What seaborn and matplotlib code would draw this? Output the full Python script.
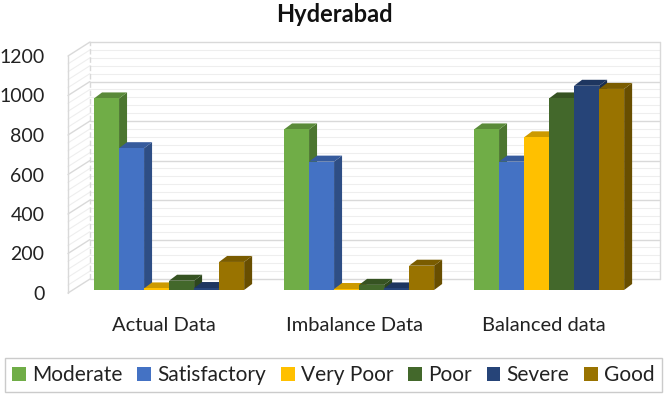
import numpy as np
import pandas as pd
import matplotlib
matplotlib.use("Agg")
import matplotlib.pyplot as plt
import seaborn as sns
from matplotlib.patches import Polygon, Patch
from matplotlib.transforms import ScaledTranslation

# ---- data ----
categories = ["Actual Data", "Imbalance Data", "Balanced data"]
classes = ["Moderate", "Satisfactory", "Very Poor", "Poor", "Severe", "Good"]
moderate = [970, 813, 813]
satisfactory = [718, 650, 650]
very_poor = [8, 5, 773]
poor = [47, 26, 970]
severe = [10, 8, 1034]
good = [142, 123, 1018]
y_ticks = [0, 200, 400, 600, 800, 1000, 1200]

series = [moderate, satisfactory, very_poor, poor, severe, good]
colors = ["#70AD47", "#4472C4", "#FFC000", "#43682B", "#264478", "#997300"]

rows = []
for cls, vals in zip(classes, series):
    for cat, v in zip(categories, vals):
        rows.append({"Dataset": cat, "Class": cls, "Count": v})
df = pd.DataFrame(rows)

sns.set_style("white")
plt.rcParams["font.family"] = ["Lato", "DejaVu Sans"]

W, H = 668, 397
fig = plt.figure(figsize=(W / 100, H / 100), dpi=100)
ax_l, ax_r, ax_b, ax_t = 68, 638, 293, 56
ax = fig.add_axes([ax_l / W, (H - ax_b) / H, (ax_r - ax_l) / W, (ax_b - ax_t) / H])

sns.barplot(data=df, x="Dataset", y="Count", hue="Class", hue_order=classes,
            order=categories, palette=colors, width=0.79, saturation=1,
            ax=ax, legend=False, errorbar=None)

x0, x1 = -0.532, 2.468
ax.set_xlim(x0, x1)
ax.set_ylim(0, 1200)

ppx = (ax_r - ax_l) / (x1 - x0)
ppy = (ax_b - ax_t) / 1200.0
wdx, wdy = 22 / ppx, 14 / ppy      # back wall offset
bdx, bdy = 8 / ppx, 6 / ppy        # bar depth
shift = ax.transData + ScaledTranslation(0, 3 / 100, fig.dpi_scale_trans)

# back wall grid
for v in np.arange(0, 1201, 40):
    major = (v % 200 == 0)
    ax.plot([x0 + wdx, x1 + wdx], [v + wdy, v + wdy],
            color="#D9D9D9" if major else "#EEEEEE", lw=1.0 if major else 0.8,
            zorder=0, clip_on=False)
    ax.plot([x0, x0 + wdx], [v, v + wdy],
            color="#D9D9D9" if major else "#EEEEEE", lw=1.0 if major else 0.8,
            zorder=0, clip_on=False)
ax.plot([x0, x0], [0, 1200], color="#D9D9D9", lw=1, zorder=0, clip_on=False)
ax.plot([x0 + wdx, x0 + wdx], [wdy, 1200 + wdy], color="#D9D9D9", lw=1,
        ls=(0, (4, 2)), zorder=0, clip_on=False)
ax.plot([x1 + wdx, x1 + wdx], [wdy, 1200 + wdy], color="#D9D9D9", lw=1,
        zorder=0, clip_on=False)


def shade(c, f):
    r, g, b = matplotlib.colors.to_rgb(c)
    return (r * f, g * f, b * f)


# 3D faces
bars = sorted(ax.patches, key=lambda p: p.get_x())
for i, p in enumerate(bars):
    bx, bw, bh = p.get_x(), p.get_width(), p.get_height()
    fc = p.get_facecolor()
    z = 2 + i * 0.01
    p.set_transform(shift)
    p.set_zorder(z + 0.005)
    p.set_linewidth(0)
    side = Polygon([(bx + bw, 0), (bx + bw + bdx, bdy), (bx + bw + bdx, bh + bdy), (bx + bw, bh)],
                   closed=True, facecolor=shade(fc, 0.68), edgecolor="none", zorder=z,
                   transform=shift, clip_on=False)
    top = Polygon([(bx, bh), (bx + bdx, bh + bdy), (bx + bw + bdx, bh + bdy), (bx + bw, bh)],
                  closed=True, facecolor=shade(fc, 0.8), edgecolor="none", zorder=z,
                  transform=shift, clip_on=False)
    ax.add_patch(side)
    ax.add_patch(top)

for s in ax.spines.values():
    s.set_visible(False)
ax.set_xlabel("")
ax.set_ylabel("")
ax.set_yticks(y_ticks)
ax.set_yticklabels([str(t) for t in y_ticks], fontsize=14, color="#222222")
ax.tick_params(axis="y", length=0, pad=17)
ax.tick_params(axis="x", length=0, pad=17, labelsize=14.5, labelcolor="#222222")
for lbl in ax.get_xticklabels():
    lbl.set_transform(lbl.get_transform() + ScaledTranslation(-5 / 100, 0, fig.dpi_scale_trans))

fig.text(0.5, 1 - 14 / H, "Hyderabad", ha="center", va="center",
         fontsize=17, fontweight="bold", color="#111111")

handles = [Patch(facecolor=c, edgecolor="none") for c in colors]
leg = fig.legend(handles, classes, loc="center", ncol=6, mode="expand",
                 bbox_to_anchor=(5 / W, 1 - 395 / H, 657 / W, 40 / H),
                 frameon=True, fancybox=False, edgecolor="#BFBFBF",
                 fontsize=15, handlelength=0.65, handleheight=0.65,
                 handletextpad=0.3, columnspacing=0.4, borderaxespad=0,
                 borderpad=0.35, labelcolor="#222222")
leg.get_frame().set_linewidth(1.0)

fig.savefig("out.png", dpi=100, facecolor="white")
